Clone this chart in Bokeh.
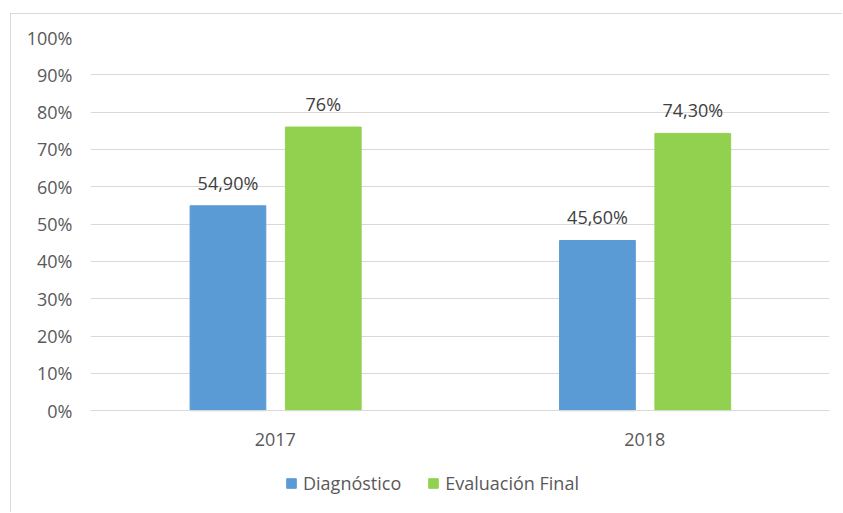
from bokeh.plotting import figure
from bokeh.models import ColumnDataSource, FactorRange, Range1d, Legend, LegendItem, FixedTicker, NumeralTickFormatter, LabelSet
from bokeh.transform import dodge
from bokeh.core.properties import value
from bokeh.embed import file_html
from bokeh.resources import INLINE

years = ["2017", "2018"]
diagnostico = [0.549, 0.456]
evaluacion_final = [0.76, 0.743]
diag_labels = ["54,90%", "45,60%"]
final_labels = ["76%", "74,30%"]
series_names = ["Diagnóstico", "Evaluación Final"]
y_ticks = [0, 0.1, 0.2, 0.3, 0.4, 0.5, 0.6, 0.7, 0.8, 0.9, 1.0]

FONT = "Open Sans"
FS = "18px"
TXT = "#595959"
BLUE = "#5B9BD5"
GREEN = "#92D050"

src = ColumnDataSource(dict(year=years, diag=diagnostico, final=evaluacion_final,
                            dl=diag_labels, fl=final_labels))

# frame extends below the 0% line so the legend (drawn inside the frame) is visible
p = figure(x_range=FactorRange(*years), y_range=Range1d(-0.273, 1.0),
           width=832, height=499, output_backend="svg", toolbar_location=None,
           min_border_left=79, min_border_right=14, min_border_top=23, min_border_bottom=1)

b1 = p.vbar(x=dodge("year", -0.128, range=p.x_range), top="diag", width=0.205, source=src,
            fill_color=BLUE, line_color=BLUE)
b2 = p.vbar(x=dodge("year", 0.13, range=p.x_range), top="final", width=0.205, source=src,
            fill_color=GREEN, line_color=GREEN)

for col, lab, off in [("diag", "dl", -0.128), ("final", "fl", 0.13)]:
    ls = LabelSet(x=dodge("year", off, range=p.x_range), y=col, text=lab, source=src,
                  text_align="center", text_baseline="bottom", y_offset=11,
                  text_font=value(FONT), text_font_size=FS, text_color="#404040")
    p.add_layout(ls)

p.yaxis.ticker = FixedTicker(ticks=y_ticks)
p.yaxis.formatter = NumeralTickFormatter(format="0%")
p.yaxis.axis_line_color = None
p.yaxis.major_tick_line_color = None
p.yaxis.minor_tick_line_color = None
p.yaxis.major_label_text_font = FONT
p.yaxis.major_label_text_font_size = FS
p.yaxis.major_label_text_color = TXT
p.yaxis.major_label_standoff = 12

p.xaxis.fixed_location = 0
p.xaxis.axis_line_color = "#D9D9D9"
p.xaxis.major_tick_line_color = None
p.xaxis.minor_tick_line_color = None
p.xaxis.major_label_text_font = FONT
p.xaxis.major_label_text_font_size = FS
p.xaxis.major_label_text_color = TXT
p.xaxis.major_label_standoff = 16

p.xgrid.grid_line_color = None
p.ygrid.grid_line_color = "#D9D9D9"
p.ygrid.grid_line_width = 1
p.outline_line_color = None
p.x_range.range_padding = 0
p.x_range.factor_padding = 0
p.border_fill_color = "white"

legend = Legend(items=[LegendItem(label=series_names[0], renderers=[b1]),
                       LegendItem(label=series_names[1], renderers=[b2])],
                orientation="horizontal", location=(195, 17),
                label_text_font=FONT, label_text_font_size=FS, label_text_color=TXT,
                glyph_width=12, glyph_height=12, spacing=26, label_standoff=6,
                border_line_color=None, background_fill_alpha=0, margin=0, padding=0)
p.add_layout(legend, "center")

# light outer border of the chart area (only top and left are visible in the reference)
p.styles = {"border-top": "1px solid #D9D9D9", "border-left": "1px solid #D9D9D9",
            "margin-left": "10px", "margin-top": "13px"}

open("out.html", "w").write(file_html(p, INLINE))
